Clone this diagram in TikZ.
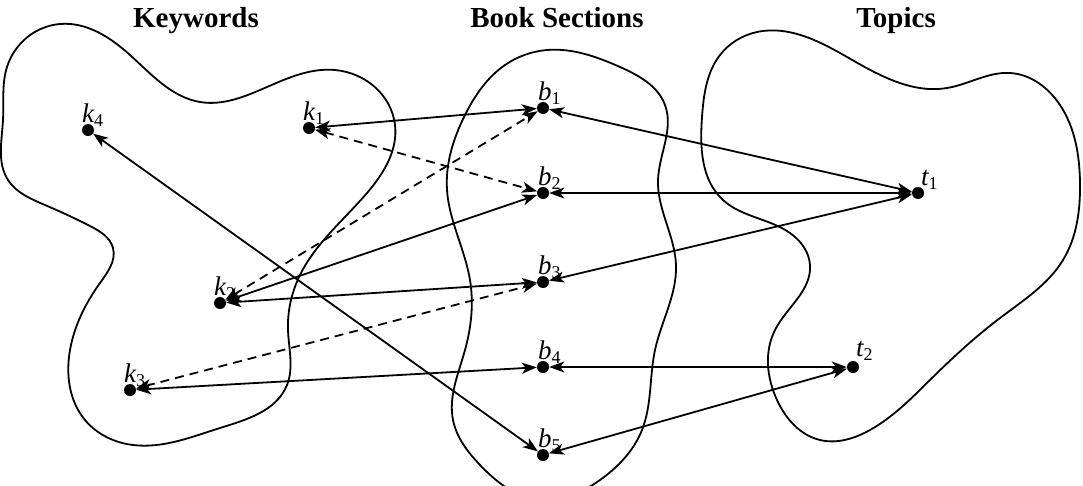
\documentclass[tikz,border=0pt]{standalone}
\usepackage{fontspec}
\setmainfont{Liberation Serif}
\usetikzlibrary{arrows.meta,hobby}
\newcommand\sublab[2]{{\itshape #1}\raisebox{-4pt}{\fontsize{18}{18}\selectfont\upshape #2}}
\begin{document}
\begin{tikzpicture}[x=1pt,y=-1pt,
  dot/.style={circle,fill=black,inner sep=0pt,minimum size=12pt},
  link/.style={line width=1.8pt,{Stealth[length=15pt,width=11pt,inset=4pt]}-{Stealth[length=15pt,width=11pt,inset=4pt]}},
  dlink/.style={link,dash pattern=on 9pt off 6pt},
  blob/.style={line width=1.8pt,use Hobby shortcut,closed=true},
  title/.style={font=\fontsize{29}{29}\selectfont\bfseries,inner sep=0pt,anchor=base},
  lab/.style={font=\fontsize{27}{27}\selectfont,inner sep=0pt,anchor=base west}]
\useasboundingbox (0,0) rectangle (1083,485);
\begin{scope}
\clip (0,0) rectangle (1083,485);
% blobs
\draw[blob] (7,67) .. (60,24) .. (130,55) .. (200,102) .. (267,87) .. (335,70)
 .. (395,125) .. (367,193) .. (300,275) .. (288,330) .. (287,385) .. (220,428)
 .. (133,445) .. (85,420) .. (70,350) .. (100,283) .. (113,248) .. (90,226)
 .. (45,205) .. (8,180) .. (3,120);
\draw[blob] (547,50) .. (620,67) .. (665,105) .. (658,180) .. (676,265)
 .. (655,350) .. (642,430) .. (600,480) .. (540,500) .. (480,465) .. (453,420)
 .. (465,350) .. (470,280) .. (447,190) .. (465,115) .. (505,65);
\draw[blob] (757,32) .. (847,57) .. (947,88) .. (1010,73) .. (1060,105)
 .. (1080,183) .. (1063,260) .. (1000,318) .. (933,377) .. (870,430)
 .. (820,440) .. (777,400) .. (775,330) .. (810,265) .. (790,233)
 .. (723,200) .. (702,117) .. (720,55);
\end{scope}
% titles
\node[title] (tk) at (196,27) {Keywords};
\node[title] (tb) at (557,27) {Book Sections};
\node[title] (tt) at (896,27) {Topics};
% dots
\node[dot] (k4) at (88,130) {};
\node[dot] (k1) at (309,128) {};
\node[dot] (k2) at (220,303) {};
\node[dot] (k3) at (130,390) {};
\node[dot] (b1) at (543,108) {};
\node[dot] (b2) at (543,193) {};
\node[dot] (b3) at (543,282) {};
\node[dot] (b4) at (543,367) {};
\node[dot] (b5) at (543,455) {};
\node[dot] (t1) at (918,193) {};
\node[dot] (t2) at (853,367) {};
% labels
\node[lab] (lk4) at (82,122) {\sublab{k}{4}};
\node[lab] (lk1) at (303,120) {\sublab{k}{1}};
\node[lab] (lk2) at (214,295) {\sublab{k}{2}};
\node[lab] (lk3) at (124,382) {\sublab{k}{3}};
\node[lab] (lb1) at (538,100) {\sublab{b}{1}};
\node[lab] (lb2) at (538,185) {\sublab{b}{2}};
\node[lab] (lb3) at (538,274) {\sublab{b}{3}};
\node[lab] (lb4) at (538,359) {\sublab{b}{4}};
\node[lab] (lb5) at (538,447) {\sublab{b}{5}};
\node[lab] (lt1) at (921,185) {\sublab{t}{1}};
\node[lab] (lt2) at (856,356) {\sublab{t}{2}};
% links
\draw[link] (k1) -- (b1);
\draw[dlink] (k1) -- (b2);
\draw[dlink] (k2) -- (b1);
\draw[link] (k2) -- (b2);
\draw[link] (k2) -- (b3);
\draw[dlink] (k3) -- (b3);
\draw[link] (k3) -- (b4);
\draw[link] (k4) -- (b5);
\draw[link] (b1) -- (t1);
\draw[link] (b2) -- (t1);
\draw[link] (b3) -- (t1);
\draw[link] (b4) -- (t2);
\draw[link] (b5) -- (t2);
\end{tikzpicture}
\end{document}
